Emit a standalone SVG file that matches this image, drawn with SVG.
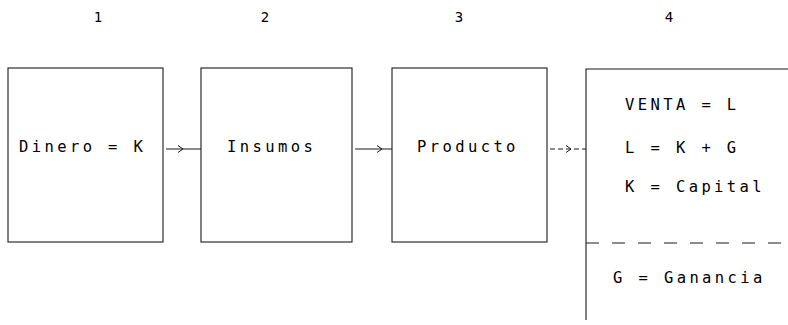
<svg xmlns="http://www.w3.org/2000/svg" width="788" height="325" viewBox="0 0 788 325">
<style>
.box{fill:none;stroke:#1a1a1a;stroke-width:1.1}
.t{font-family:"DejaVu Sans Mono","Liberation Mono",monospace;font-size:15.5px;letter-spacing:3.4px;fill:#000}
.n{font-family:"DejaVu Sans Mono","Liberation Mono",monospace;font-size:14px;fill:#000;text-anchor:middle}
.c{fill:none;stroke:#1a1a1a;stroke-width:1}
</style>
<defs>
<marker id="chev" markerWidth="10" markerHeight="10" refX="6" refY="5" orient="auto" markerUnits="userSpaceOnUse">
<path d="M1,1.5 L6,5 L1,8.5" fill="none" stroke="#1a1a1a" stroke-width="1"/>
</marker>
</defs>
<g id="labels">
<text class="n" x="98" y="22">1</text>
<text class="n" x="265" y="22">2</text>
<text class="n" x="459" y="22">3</text>
<text class="n" x="669" y="22">4</text>
</g>
<g id="n1">
<rect class="box" x="8" y="68" width="155" height="174"/>
<text class="t" x="19" y="152">Dinero = K</text>
</g>
<g id="n2">
<rect class="box" x="201" y="68" width="151" height="174"/>
<text class="t" x="227" y="152">Insumos</text>
</g>
<g id="n3">
<rect class="box" x="392" y="68" width="155" height="174"/>
<text class="t" x="417" y="152">Producto</text>
</g>
<g id="n4">
<path class="box" d="M788,69 H586 V320"/>
<path class="box" d="M586,243 H788" stroke-dasharray="13,13"/>
<text class="t" x="625" y="110">VENTA = L</text>
<text class="t" x="625" y="153">L = K + G</text>
<text class="t" x="625" y="192">K = Capital</text>
<text class="t" x="613" y="283">G = Ganancia</text>
</g>
<g id="connectors">
<polyline class="c" points="166,149 183,149 201,149" marker-mid="url(#chev)"/>
<polyline class="c" points="355,149 382,149 392,149" marker-mid="url(#chev)"/>
<polyline class="c" points="550,149 571,149 586,149" marker-mid="url(#chev)" stroke-dasharray="5,3"/>
</g>
</svg>
